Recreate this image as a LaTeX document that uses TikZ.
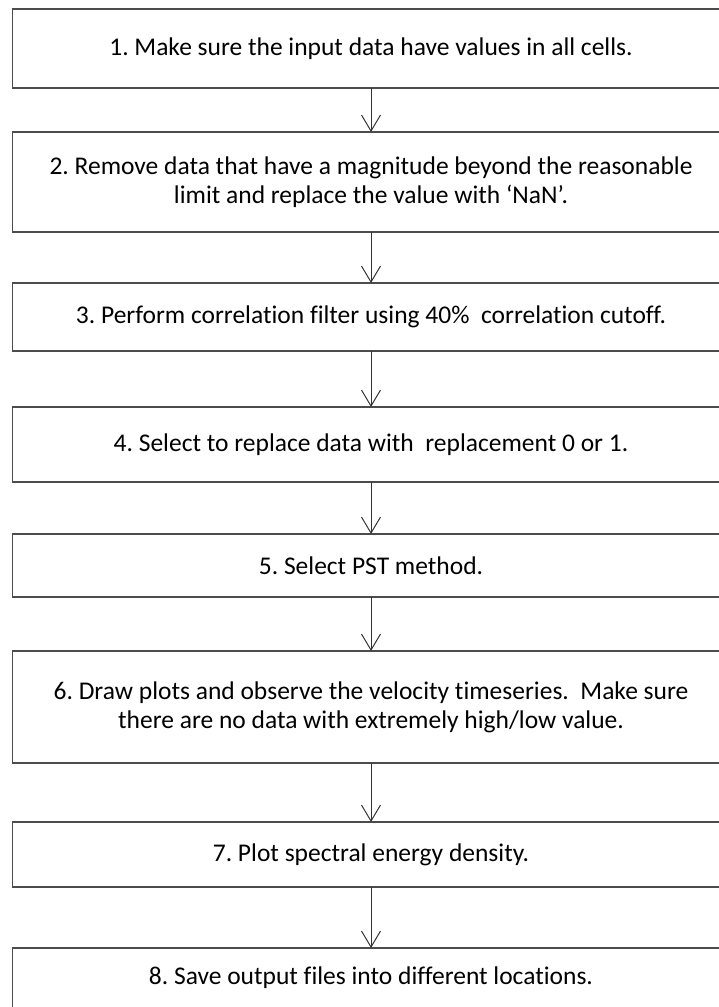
\documentclass[tikz,border=0pt]{standalone}
\usepackage{fontspec}
\setmainfont{Carlito}[Ligatures=NoCommon]
\usetikzlibrary{positioning,arrows.meta}
\frenchspacing

\begin{document}
\begin{tikzpicture}[
    x=1pt, y=1pt,
    every node/.style={font=\fontsize{25.5}{29}\selectfont},
    stepbox/.style={rectangle, draw=black!70, line width=1.5pt, outer sep=0pt,
                    minimum width=717pt, align=center, inner sep=0pt},
    arr/.style={-{Straight Barb[length=16pt,width=19pt]}, line width=1pt, draw=black!80}
]
\useasboundingbox (0,0) rectangle (719,-1007);
\clip (0,0) rectangle (719,-1007);

\node[stepbox, minimum height=79pt]                 (s1) at (371,-48.5)
    {1. Make sure the input data have values in all cells.};
\node[stepbox, minimum height=100pt, below=44pt of s1] (s2)
    {2. Remove data that have a magnitude beyond the reasonable\\limit and replace the value with ‘NaN’.};
\node[stepbox, minimum height=68pt, below=51pt of s2]  (s3)
    {3. Perform correlation filter using 40\% \ correlation cutoff.};
\node[stepbox, minimum height=75pt, below=56pt of s3]  (s4)
    {4. Select to replace data with \ replacement 0 or 1.};
\node[stepbox, minimum height=63pt, below=52pt of s4]  (s5)
    {5. Select PST method.};
\node[stepbox, minimum height=112pt, below=54pt of s5] (s6)
    {6. Draw plots and observe the velocity timeseries. \ Make sure\\there are no data with extremely high/low value.};
\node[stepbox, minimum height=65pt, below=59pt of s6]  (s7)
    {7. Plot spectral energy density.};
\node[stepbox, minimum height=60pt, below=61pt of s7]  (s8)
    {8. Save output files into different locations.};

\draw[arr] (s1) -- (s2);
\draw[arr] (s2) -- (s3);
\draw[arr] (s3) -- (s4);
\draw[arr] (s4) -- (s5);
\draw[arr] (s5) -- (s6);
\draw[arr] (s6) -- (s7);
\draw[arr] (s7) -- (s8);
\end{tikzpicture}
\end{document}
